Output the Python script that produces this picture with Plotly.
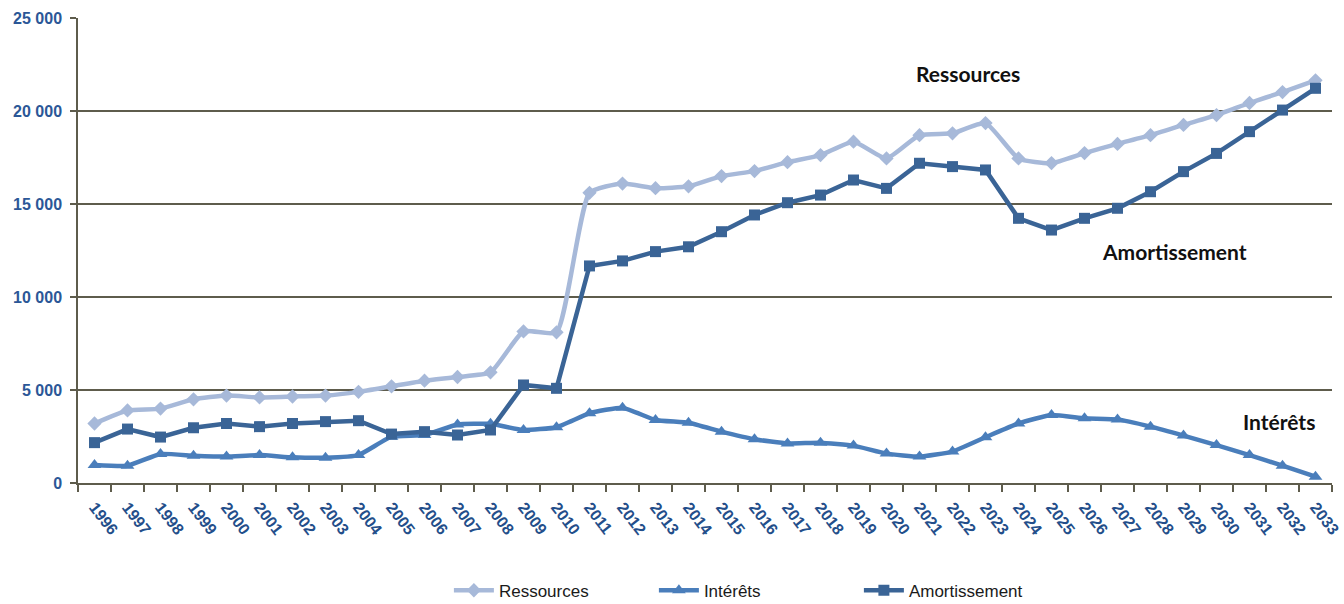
import plotly.graph_objects as go

years = [str(y) for y in range(1996, 2034)]

ressources = [3200, 3900, 4000, 4500, 4700, 4600, 4650, 4700, 4900, 5200,
              5500, 5700, 5950, 8150, 8100, 15600, 16100, 15850, 15950, 16500,
              16770, 17250, 17630, 18350, 17450, 18700, 18800, 19350, 17450, 17200,
              17740, 18230, 18700, 19250, 19780, 20430, 21020, 21650]

interets = [970, 930, 1560, 1470, 1420, 1500, 1380, 1360, 1500, 2490,
            2580, 3150, 3180, 2850, 3000, 3750, 4050, 3390, 3240, 2760,
            2350, 2130, 2170, 2010, 1580, 1420, 1690, 2460, 3200, 3660,
            3480, 3420, 3030, 2550, 2040, 1500, 930, 340]

amortissement = [2170, 2900, 2470, 2970, 3200, 3030, 3200, 3300, 3350, 2630,
                 2760, 2580, 2850, 5270, 5090, 11670, 11940, 12440, 12700, 13510,
                 14410, 15070, 15480, 16290, 15840, 17190, 17010, 16830, 14230, 13600,
                 14230, 14770, 15660, 16740, 17720, 18890, 20050, 21220]

y_ticks = [0, 5000, 10000, 15000, 20000, 25000]

c_res = "#A7B9D9"
c_int = "#4A7EBB"
c_amo = "#3A6496"
axis_col = "#5E5C4C"
sans = "Liberation Sans Narrow, Arial Narrow, Liberation Sans, sans-serif"

fig = go.Figure()
fig.add_trace(go.Scatter(
    x=years, y=ressources, name="Ressources", mode="lines+markers",
    line=dict(color=c_res, width=4.5, shape="spline", smoothing=0.5),
    marker=dict(symbol="diamond", size=11, color=c_res)))
fig.add_trace(go.Scatter(
    x=years, y=interets, name="Intérêts", mode="lines+markers",
    line=dict(color=c_int, width=4.5, shape="spline", smoothing=0.4),
    marker=dict(symbol="triangle-up", size=12, color=c_int)))
fig.add_trace(go.Scatter(
    x=years, y=amortissement, name="Amortissement", mode="lines+markers",
    line=dict(color=c_amo, width=4.5),
    marker=dict(symbol="square", size=11, color=c_amo)))

ann_font = dict(family="Lato, Open Sans, sans-serif", size=21, color="#111111", weight="bold")
fig.add_annotation(x=26.47, y=21990, text="Ressources", showarrow=False,
                   xanchor="center", yanchor="middle", font=ann_font)
fig.add_annotation(x=32.74, y=12470, text="Amortissement", showarrow=False,
                   xanchor="center", yanchor="middle", font=ann_font)
fig.add_annotation(x=35.9, y=3280, text="Intérêts", showarrow=False,
                   xanchor="center", yanchor="middle", font=ann_font)

fig.update_layout(
    width=1344, height=604,
    margin=dict(l=78, r=12, t=18, b=121),
    paper_bgcolor="white", plot_bgcolor="white",
    separators=", ",
    showlegend=True,
    legend=dict(orientation="h", xref="container", x=0.334, xanchor="left",
                yref="container", y=0.022, yanchor="middle",
                font=dict(family=sans, size=17, color="#1A1A1A"),
                entrywidth=150, itemwidth=40),
    xaxis=dict(type="category", tickangle=52, showline=True, linecolor=axis_col, linewidth=1.5,
               ticks="outside", tickson="boundaries", ticklen=7, tickcolor=axis_col, tickwidth=1.5,
               showgrid=False, automargin=False, range=[-0.5, len(years) - 0.5],
               ticklabelstandoff=7,
               tickfont=dict(family=sans, size=16, color="#234E8A", weight="bold")),
    yaxis=dict(range=[0, 25000], tickvals=y_ticks, tickformat=",d", automargin=False,
               showline=True, linecolor=axis_col, linewidth=1.5,
               ticks="outside", ticklen=6, tickcolor=axis_col, tickwidth=1.5,
               showgrid=True, gridcolor=axis_col, gridwidth=1.5, zeroline=False,
               ticklabelstandoff=5,
               tickfont=dict(family=sans, size=16, color="#2B5797", weight="bold")),
)

fig.write_html("out.html", config={"displayModeBar": False},
               post_script="document.body.style.margin='0';document.body.style.overflow='hidden';")
